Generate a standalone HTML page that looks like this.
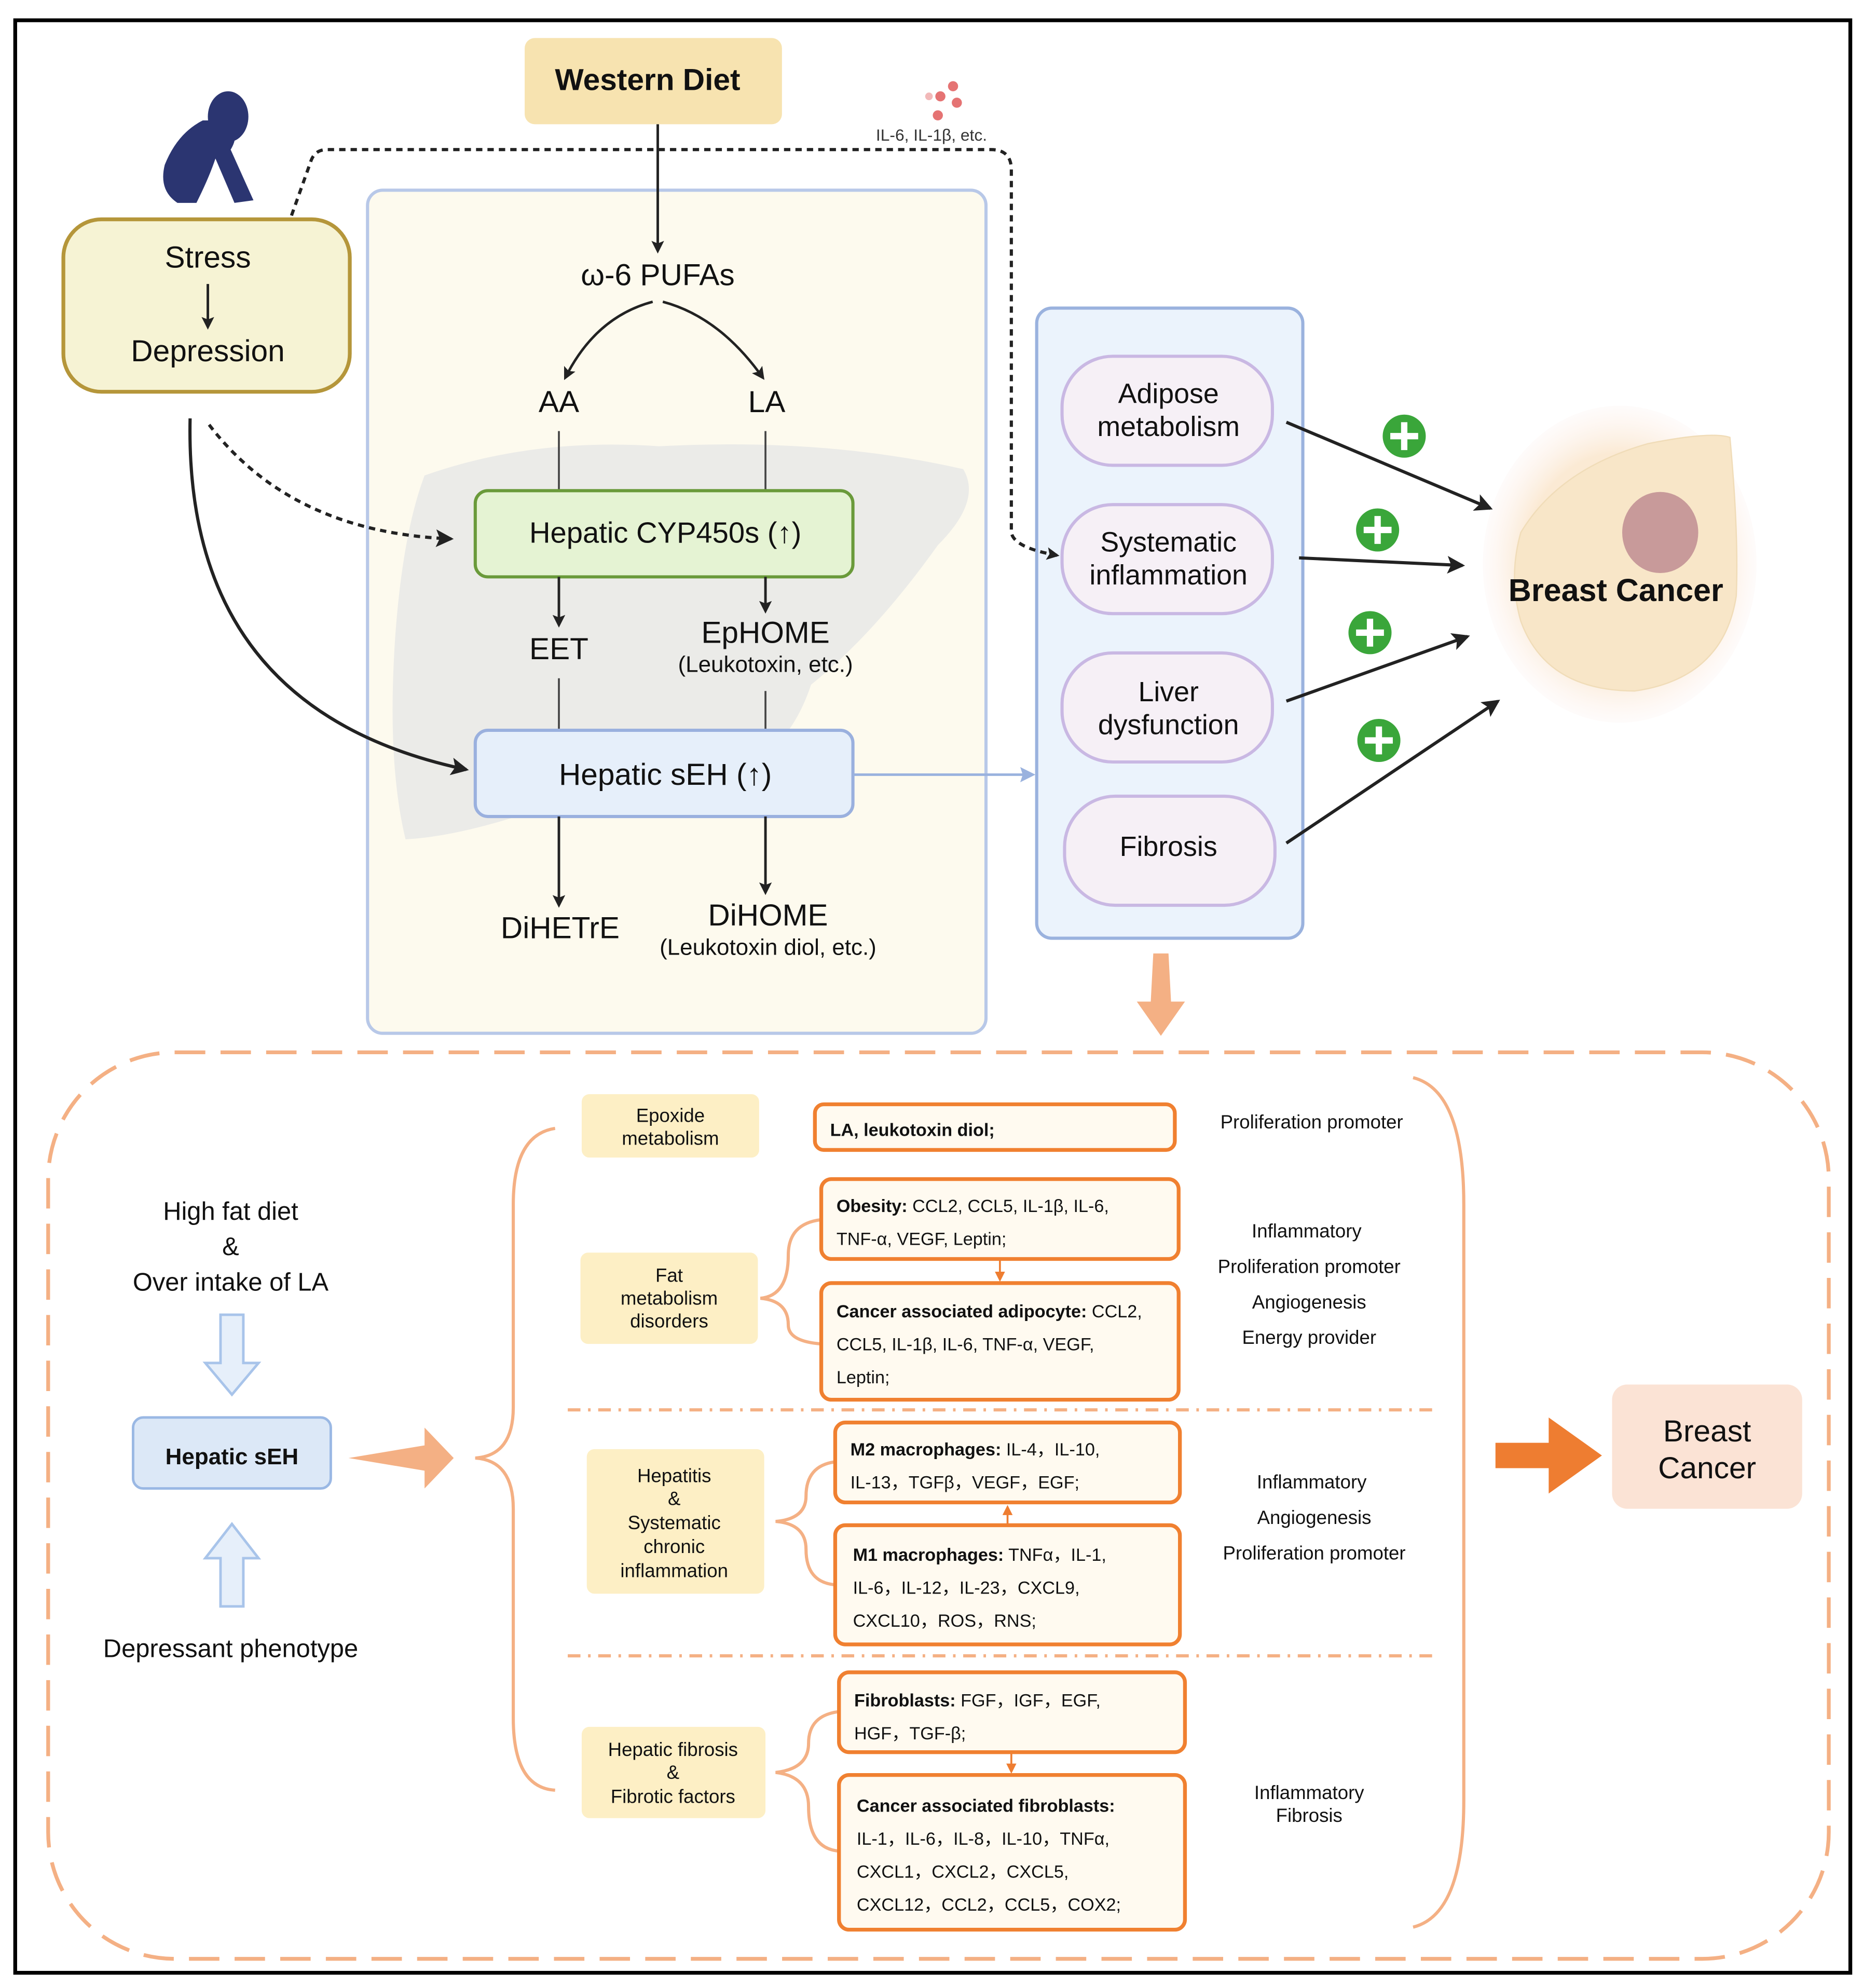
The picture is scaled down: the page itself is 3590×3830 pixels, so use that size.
<!DOCTYPE html>
<html><head><meta charset="utf-8"><style>html,body{margin:0;padding:0;background:#fff}svg{display:block}text{font-family:"Liberation Sans","DejaVu Sans",sans-serif}</style></head>
<body>
<svg width="3590" height="3830" viewBox="0 0 1470 1568" preserveAspectRatio="none" xmlns="http://www.w3.org/2000/svg">
<defs>
<marker id="ah" markerWidth="10" markerHeight="10" refX="8" refY="5" orient="auto" markerUnits="userSpaceOnUse"><path d="M0,0 L10,5 L0,10 L2,5 z" fill="#222"/></marker>
<marker id="ahb" markerWidth="14" markerHeight="14" refX="12" refY="7" orient="auto" markerUnits="userSpaceOnUse"><path d="M0,0 L14,7 L0,14 L3,7 z" fill="#222"/></marker>
<marker id="ahl" markerWidth="12" markerHeight="12" refX="10" refY="6" orient="auto" markerUnits="userSpaceOnUse"><path d="M0,0 L12,6 L0,12 L2,6 z" fill="#9ab2de"/></marker>
<marker id="aho" markerWidth="8" markerHeight="8" refX="6" refY="4" orient="auto" markerUnits="userSpaceOnUse"><path d="M0,0 L8,4 L0,8 z" fill="#ee7d31"/></marker>
<radialGradient id="br" cx="0.5" cy="0.5" r="0.5"><stop offset="0.7" stop-color="#fbead4"/><stop offset="1" stop-color="#fdf3f0" stop-opacity="0.3"/></radialGradient>
</defs>
<rect x="12" y="16" width="1448" height="1540" fill="#fff" stroke="#000" stroke-width="3"/>

<rect x="414" y="30" width="203" height="68" rx="8" fill="#f7e3b0"/>
<text x="511" y="71" font-size="24" font-weight="bold" text-anchor="middle" fill="#111">Western Diet</text>

<g fill="#2b3571">
<ellipse cx="180" cy="92" rx="16" ry="20"/>
<path d="M160,95 Q140,105 130,130 Q125,150 140,160 L155,160 Q165,140 170,125 L185,160 L200,158 L182,118 Q190,105 180,95 z"/>
</g>

<rect x="50" y="173" width="226" height="136" rx="30" fill="#f6f3d4" stroke="#b5963a" stroke-width="3"/>
<text x="164" y="211" font-size="24" text-anchor="middle" fill="#111">Stress</text>
<line x1="164" y1="224" x2="164" y2="258" stroke="#222" stroke-width="2" marker-end="url(#ah)"/>
<text x="164" y="285" font-size="24" text-anchor="middle" fill="#111">Depression</text>

<text x="735" y="111" font-size="13" text-anchor="middle" fill="#333">IL-6, IL-1β, etc.</text>
<g fill="#e57373"><circle cx="752" cy="68" r="4"/><circle cx="742" cy="76" r="4"/><circle cx="755" cy="81" r="4"/><circle cx="740" cy="91" r="4"/><circle cx="733" cy="76" r="3" opacity="0.5"/></g>

<rect x="290" y="150" width="488" height="665" rx="12" fill="#fdfaee" stroke="#b8c8e8" stroke-width="2.5"/>
<path d="M335,375 Q420,345 520,352 Q650,345 760,370 Q775,395 740,430 Q690,500 640,540 Q620,600 570,610 L420,640 Q360,660 320,662 Q305,600 312,500 Q318,420 335,375 z" fill="#ebebe8"/>
<line x1="519" y1="98" x2="519" y2="198" stroke="#222" stroke-width="2" marker-end="url(#ah)"/>
<text x="519" y="225" font-size="24" text-anchor="middle" fill="#111">ω-6 PUFAs</text>
<path d="M515,238 Q470,250 446,298" fill="none" stroke="#222" stroke-width="2" marker-end="url(#ah)"/>
<path d="M523,238 Q568,250 602,298" fill="none" stroke="#222" stroke-width="2" marker-end="url(#ah)"/>
<text x="441" y="325" font-size="24" text-anchor="middle" fill="#111">AA</text>
<text x="605" y="325" font-size="24" text-anchor="middle" fill="#111">LA</text>
<line x1="441" y1="340" x2="441" y2="387" stroke="#444" stroke-width="1.5"/>
<line x1="604" y1="340" x2="604" y2="387" stroke="#444" stroke-width="1.5"/>
<rect x="375" y="387" width="298" height="68" rx="10" fill="#e5f3d3" stroke="#6a9a3a" stroke-width="2.5"/>
<text x="525" y="428" font-size="23" text-anchor="middle" fill="#111">Hepatic CYP450s (↑)</text>
<line x1="441" y1="455" x2="441" y2="493" stroke="#222" stroke-width="2" marker-end="url(#ah)"/>
<line x1="604" y1="455" x2="604" y2="482" stroke="#222" stroke-width="2" marker-end="url(#ah)"/>
<text x="441" y="520" font-size="24" text-anchor="middle" fill="#111">EET</text>
<text x="604" y="507" font-size="24" text-anchor="middle" fill="#111">EpHOME</text>
<text x="604" y="530" font-size="18" text-anchor="middle" fill="#111">(Leukotoxin, etc.)</text>
<line x1="441" y1="535" x2="441" y2="576" stroke="#444" stroke-width="1.5"/>
<line x1="604" y1="545" x2="604" y2="576" stroke="#444" stroke-width="1.5"/>
<rect x="375" y="576" width="298" height="68" rx="10" fill="#e6effa" stroke="#9ab0de" stroke-width="2.5"/>
<text x="525" y="619" font-size="24" text-anchor="middle" fill="#111">Hepatic sEH (↑)</text>
<line x1="441" y1="644" x2="441" y2="714" stroke="#222" stroke-width="2" marker-end="url(#ah)"/>
<line x1="604" y1="644" x2="604" y2="704" stroke="#222" stroke-width="2" marker-end="url(#ah)"/>
<text x="442" y="740" font-size="24" text-anchor="middle" fill="#111">DiHETrE</text>
<text x="606" y="730" font-size="24" text-anchor="middle" fill="#111">DiHOME</text>
<text x="606" y="753" font-size="18" text-anchor="middle" fill="#111">(Leukotoxin diol, etc.)</text>

<path d="M150,330 Q145,560 368,607" fill="none" stroke="#222" stroke-width="2.5" marker-end="url(#ahb)"/>
<path d="M165,335 Q230,420 356,425" fill="none" stroke="#222" stroke-width="2.5" stroke-dasharray="5,4" marker-end="url(#ahb)"/>
<line x1="673" y1="611" x2="815" y2="611" stroke="#9ab2de" stroke-width="2" marker-end="url(#ahl)"/>

<rect x="818" y="243" width="210" height="497" rx="12" fill="#ebf3fc" stroke="#9ab2de" stroke-width="2.5"/>
<path d="M230,170 L245,128 Q248,118 258,118 L782,118 Q798,118 798,134 L798,420 Q800,432 834,438" fill="none" stroke="#222" stroke-width="2.5" stroke-dasharray="5,4" marker-end="url(#ah)"/>
<g fill="#f6f0f6" stroke="#c9b8e3" stroke-width="2.5">
<rect x="838" y="281" width="166" height="86" rx="40"/>
<rect x="838" y="398" width="166" height="86" rx="40"/>
<rect x="838" y="515" width="166" height="86" rx="40"/>
<rect x="840" y="628" width="166" height="86" rx="40"/>
</g>
<g font-size="22" text-anchor="middle" fill="#111">
<text x="922" y="318">Adipose</text><text x="922" y="344">metabolism</text>
<text x="922" y="435">Systematic</text><text x="922" y="461">inflammation</text>
<text x="922" y="553">Liver</text><text x="922" y="579">dysfunction</text>
<text x="922" y="675">Fibrosis</text>
</g>
<ellipse cx="1278" cy="445" rx="108" ry="125" fill="url(#br)"/>
<path d="M1200,420 Q1230,370 1300,350 Q1350,340 1365,345 Q1372,420 1370,470 Q1360,535 1290,545 Q1220,545 1200,490 Q1190,455 1200,420 z" fill="#f8e6c8" stroke="#f0dcb8"/>
<ellipse cx="1310" cy="420" rx="30" ry="32" fill="#c89a9a"/>
<text x="1275" y="474" font-size="25" font-weight="bold" text-anchor="middle" fill="#111">Breast Cancer</text>
<g stroke="#222" stroke-width="2.5" fill="none">
<line x1="1015" y1="333" x2="1176" y2="401" marker-end="url(#ahb)"/>
<line x1="1025" y1="440" x2="1154" y2="446" marker-end="url(#ahb)"/>
<line x1="1015" y1="553" x2="1158" y2="502" marker-end="url(#ahb)"/>
<line x1="1015" y1="665" x2="1182" y2="553" marker-end="url(#ahb)"/>
</g>
<g>
<circle cx="1108" cy="344" r="17" fill="#3aa63a"/><circle cx="1087" cy="418" r="17" fill="#3aa63a"/><circle cx="1081" cy="499" r="17" fill="#3aa63a"/><circle cx="1088" cy="584" r="17" fill="#3aa63a"/>
<g stroke="#fff" stroke-width="5">
<path d="M1097,344 h22 M1108,333 v22"/><path d="M1076,418 h22 M1087,407 v22"/><path d="M1070,499 h22 M1081,488 v22"/><path d="M1077,584 h22 M1088,573 v22"/>
</g></g>
<path d="M910,752 L922,752 L924,790 L935,790 L916,817 L897,790 L908,790 z" fill="#f4b084"/>

<rect x="38" y="830" width="1405" height="715" rx="100" fill="none" stroke="#f4b084" stroke-width="3" stroke-dasharray="24,12"/>
<g font-size="20" text-anchor="middle" fill="#111">
<text x="182" y="962">High fat diet</text><text x="182" y="990">&amp;</text><text x="182" y="1018">Over intake of LA</text>
<text x="182" y="1307">Depressant phenotype</text>
</g>
<path d="M174,1037 h18 v38 h12 l-21,25 l-21,-25 h12 z" fill="#e6effa" stroke="#a8c4ea" stroke-width="2"/>
<path d="M174,1267 h18 v-38 h12 l-21,-27 l-21,27 h12 z" fill="#e6effa" stroke="#a8c4ea" stroke-width="2"/>
<rect x="105" y="1118" width="156" height="56" rx="8" fill="#dce8f7" stroke="#9ab8e4" stroke-width="2"/>
<text x="183" y="1155" font-size="18" font-weight="bold" text-anchor="middle" fill="#111">Hepatic sEH</text>
<path d="M275,1150 L335,1140 L335,1126 L358,1150 L335,1174 L335,1160 z" fill="#f4b084"/>
<path d="M438,890 Q405,895 405,950 L405,1110 Q405,1148 375,1150 Q405,1152 405,1190 L405,1355 Q405,1410 438,1412" fill="none" stroke="#f4b084" stroke-width="2.5"/>
<path d="M1115,850 Q1155,860 1155,950 L1155,1420 Q1155,1510 1115,1520" fill="none" stroke="#f4b084" stroke-width="2.5"/>

<g fill="#fdefc5">
<rect x="459" y="863" width="140" height="50" rx="6"/>
<rect x="458" y="988" width="140" height="72" rx="6"/>
<rect x="463" y="1143" width="140" height="114" rx="6"/>
<rect x="459" y="1362" width="145" height="72" rx="6"/>
</g>
<g font-size="15" text-anchor="middle" fill="#111">
<text x="529" y="885">Epoxide</text><text x="529" y="903">metabolism</text>
<text x="528" y="1011">Fat</text><text x="528" y="1029">metabolism</text><text x="528" y="1047">disorders</text>
<text x="532" y="1169">Hepatitis</text><text x="532" y="1187">&amp;</text><text x="532" y="1206">Systematic</text><text x="532" y="1225">chronic</text><text x="532" y="1244">inflammation</text>
<text x="531" y="1385">Hepatic fibrosis</text><text x="531" y="1403">&amp;</text><text x="531" y="1422">Fibrotic factors</text>
</g>
<g fill="none" stroke="#f4b084" stroke-width="2.5">
<path d="M648,962 Q622,965 622,990 Q622,1022 600,1024 Q622,1026 622,1045 Q622,1058 648,1060"/>
<path d="M659,1153 Q636,1156 636,1180 Q636,1198 612,1200 Q636,1202 636,1222 Q636,1248 659,1250"/>
<path d="M662,1350 Q638,1353 638,1375 Q638,1395 612,1398 Q638,1401 638,1425 Q638,1458 662,1460"/>
</g>
<g fill="#fffaf0" stroke="#f08030" stroke-width="3">
<rect x="643" y="871" width="284" height="36" rx="7"/>
<rect x="648" y="930" width="282" height="63" rx="8"/>
<rect x="648" y="1012" width="282" height="92" rx="8"/>
<rect x="659" y="1122" width="272" height="63" rx="8"/>
<rect x="659" y="1203" width="272" height="94" rx="8"/>
<rect x="662" y="1319" width="273" height="63" rx="8"/>
<rect x="662" y="1400" width="273" height="122" rx="8"/>
</g>
<g stroke="#ee7d31" stroke-width="1.5">
<line x1="789" y1="994" x2="789" y2="1009" marker-end="url(#aho)"/>
<line x1="795" y1="1202" x2="795" y2="1189" marker-end="url(#aho)"/>
<line x1="798" y1="1383" x2="798" y2="1397" marker-end="url(#aho)"/>
</g>
<g font-size="14" fill="#111">
<text x="655" y="896"><tspan font-weight="bold">LA, leukotoxin diol;</tspan></text>
<text x="660" y="956"><tspan font-weight="bold">Obesity:</tspan> CCL2, CCL5, IL-1β, IL-6,</text>
<text x="660" y="982">TNF-α, VEGF, Leptin;</text>
<text x="660" y="1039"><tspan font-weight="bold">Cancer associated adipocyte:</tspan> CCL2,</text>
<text x="660" y="1065">CCL5, IL-1β, IL-6, TNF-α, VEGF,</text>
<text x="660" y="1091">Leptin;</text>
<text x="671" y="1148"><tspan font-weight="bold">M2 macrophages:</tspan> IL-4，IL-10,</text>
<text x="671" y="1174">IL-13，TGFβ，VEGF，EGF;</text>
<text x="673" y="1231"><tspan font-weight="bold">M1 macrophages:</tspan> TNFα，IL-1,</text>
<text x="673" y="1257">IL-6，IL-12，IL-23，CXCL9,</text>
<text x="673" y="1283">CXCL10，ROS，RNS;</text>
<text x="674" y="1346"><tspan font-weight="bold">Fibroblasts:</tspan> FGF，IGF，EGF,</text>
<text x="674" y="1372">HGF，TGF-β;</text>
<text x="676" y="1429"><tspan font-weight="bold">Cancer associated fibroblasts:</tspan></text>
<text x="676" y="1455">IL-1，IL-6，IL-8，IL-10，TNFα,</text>
<text x="676" y="1481">CXCL1，CXCL2，CXCL5,</text>
<text x="676" y="1507">CXCL12，CCL2，CCL5，COX2;</text>
</g>
<g font-size="15" text-anchor="middle" fill="#111">
<text x="1035" y="890">Proliferation promoter</text>
<text x="1031" y="976">Inflammatory</text><text x="1033" y="1004">Proliferation promoter</text><text x="1033" y="1032">Angiogenesis</text><text x="1033" y="1060">Energy provider</text>
<text x="1035" y="1174">Inflammatory</text><text x="1037" y="1202">Angiogenesis</text><text x="1037" y="1230">Proliferation promoter</text>
<text x="1033" y="1419">Inflammatory</text><text x="1033" y="1437">Fibrosis</text>
</g>
<g stroke="#f4b084" stroke-width="2.5" stroke-dasharray="10,6,2,6">
<line x1="448" y1="1112" x2="1135" y2="1112"/>
<line x1="448" y1="1306" x2="1135" y2="1306"/>
</g>
<path d="M1180,1138 h42 v-20 l42,30 l-42,30 v-20 h-42 z" fill="#ee7d31"/>
<rect x="1272" y="1092" width="150" height="98" rx="12" fill="#fbe3d5"/>
<text x="1347" y="1137" font-size="24" text-anchor="middle" fill="#111">Breast</text>
<text x="1347" y="1166" font-size="24" text-anchor="middle" fill="#111">Cancer</text>
</svg>
</body></html>
